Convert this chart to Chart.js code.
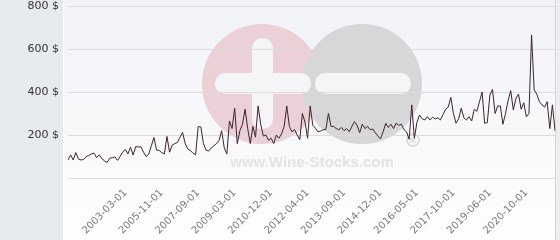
<!DOCTYPE html>
<html>
<head>
<meta charset="utf-8">
<script src="https://cdn.jsdelivr.net/npm/chart.js@4/dist/chart.umd.min.js"></script>
<style>
  html, body { margin: 0; padding: 0; background: #fff; }
  #wrap { width: 560px; height: 240px; }
</style>
</head>
<body>
<div id="wrap"><canvas id="priceChart" width="560" height="240"></canvas></div>
<script>
// Price history (USD), one value per sale date
const prices = [
    84, 107, 84, 118, 88, 84, 86, 100, 105, 112, 116, 95, 108, 90, 80, 72, 92, 94, 98, 82, 100, 120, 133,
    112, 143, 107, 146, 144, 145, 120, 100, 110, 150, 188, 130, 128, 118, 112, 193, 120, 153, 160, 165, 190,
    212, 160, 135, 128, 115, 108, 239, 238, 161, 130, 125, 140, 150, 160, 175, 220, 140, 112, 265, 230, 324,
    160, 220, 250, 320, 230, 160, 240, 190, 335, 250, 195, 200, 175, 185, 160, 200, 185, 205, 240, 335,
    240, 215, 225, 200, 178, 300, 260, 185, 335, 245, 232, 215,
    218, 225, 226, 300, 240, 240, 230, 225, 235, 220, 230, 215, 240, 262, 245, 211, 250, 230, 240, 225,
    228, 210, 195, 182, 215, 254, 235, 250, 230, 255, 245, 250, 225, 215, 180,
    340, 185, 260, 293, 275, 270, 285, 270, 283, 275, 280, 270, 295, 320, 330, 375, 300, 255, 275, 325,
    280, 270, 285, 265, 320, 310, 355, 400, 254, 258, 386, 412, 300, 335, 335, 250, 300, 360, 406, 316,
    370, 390, 320, 350, 285, 300, 665, 410, 390, 355, 340, 330, 355, 230, 340, 220
];

// Dates shown on the x axis and the sale index they belong to
const tickDates = ['2003-03-01', '2005-11-01', '2007-09-01', '2009-03-01', '2010-12-01', '2012-04-01',
    '2013-09-01', '2014-12-01', '2016-05-01', '2017-10-01', '2019-06-01', '2020-10-01'];
const tickIndex = [22, 36, 50, 64, 78, 92, 106, 120, 134, 148, 162, 176];

// y axis
const yMax = 800;
const yStep = 200;

const dates = prices.map(function(p, i) {
    const k = tickIndex.indexOf(i);
    return k < 0 ? '' : tickDates[k];
});

const backdrop = {
    id: 'backdrop',
    beforeDraw(chart) {
        const ctx = chart.ctx;
        const area = chart.chartArea;
        ctx.save();
        // left panel behind the y labels
        ctx.fillStyle = '#e7ebee';
        ctx.fillRect(0, 0, 63, chart.height);
        // plot panel
        const g = ctx.createLinearGradient(0, 0, 0, chart.height);
        g.addColorStop(0, '#f1f2f6');
        g.addColorStop(1, '#fefeff');
        ctx.fillStyle = g;
        ctx.fillRect(64, 0, area.right - 64, chart.height);
        ctx.fillStyle = '#ffffff';
        ctx.fillRect(63, 0, 1, chart.height);
        ctx.fillStyle = '#eceef0';
        ctx.fillRect(area.right + 1, 0, chart.width - area.right - 1, chart.height);
        ctx.fillStyle = '#d6d6d8';
        ctx.fillRect(area.right, 0, 1, chart.height);

        // watermark logo
        ctx.fillStyle = '#ebd0d8';
        ctx.beginPath();
        ctx.arc(262, 84, 60, 0, Math.PI * 2);
        ctx.fill();
        ctx.fillStyle = '#d7d7d9';
        ctx.beginPath();
        ctx.arc(362, 84, 60, 0, Math.PI * 2);
        ctx.fill();
        ctx.fillStyle = '#f5f5f8';
        ctx.beginPath();
        ctx.roundRect(252, 38, 21, 91, 10);
        ctx.roundRect(215, 73, 96, 21, 10);
        ctx.roundRect(315, 73, 96, 21, 10);
        ctx.fill();
        ctx.font = 'bold 15px "Liberation Sans"';
        ctx.fillStyle = '#e3e3e5';
        ctx.textAlign = 'center';
        ctx.textBaseline = 'alphabetic';
        ctx.fillText('www.Wine-Stocks.com', 312, 167);
        ctx.strokeStyle = '#d3d3d5';
        ctx.lineWidth = 1.5;
        ctx.beginPath();
        ctx.arc(413, 140, 6, 0, Math.PI * 2);
        ctx.stroke();
        ctx.font = 'bold 8px "Liberation Sans"';
        ctx.fillStyle = '#d3d3d5';
        ctx.textBaseline = 'middle';
        ctx.fillText('R', 413, 140.5);
        ctx.restore();
    }
};

new Chart(document.getElementById('priceChart'), {
    type: 'line',
    data: {
        labels: dates,
        datasets: [{
            data: prices,
            borderColor: '#3b2430',
            borderWidth: 1,
            pointRadius: 0,
            tension: 0,
            fill: false
        }]
    },
    options: {
        responsive: false,
        animation: false,
        layout: { padding: { right: 5, top: 0 } },
        plugins: {
            legend: { display: false },
            tooltip: { enabled: false }
        },
        scales: {
            x: {
                offset: false,
                grid: { display: false, drawTicks: false },
                border: { display: false },
                ticks: {
                    autoSkip: false,
                    minRotation: 45,
                    maxRotation: 45,
                    padding: 9,
                    color: '#7a7a7a',
                    font: { family: 'DejaVu Sans', size: 10 }
                },
                afterFit(scale) {
                    scale.height = 62;
                    scale.paddingLeft = 0;
                    scale.paddingRight = 0;
                }
            },
            y: {
                min: 0,
                max: yMax,
                grid: { color: '#dcdcde', drawTicks: false },
                border: { display: false },
                ticks: {
                    stepSize: yStep,
                    padding: 9,
                    color: '#333',
                    font: { family: 'DejaVu Sans', size: 11 },
                    callback: function(v) { return v === 0 ? '' : v + ' $'; }
                },
                afterFit(scale) {
                    scale.width = 68;
                    scale.paddingTop = 6;
                    scale.paddingBottom = 0;
                }
            }
        }
    },
    plugins: [backdrop]
});
</script>
</body>
</html>
